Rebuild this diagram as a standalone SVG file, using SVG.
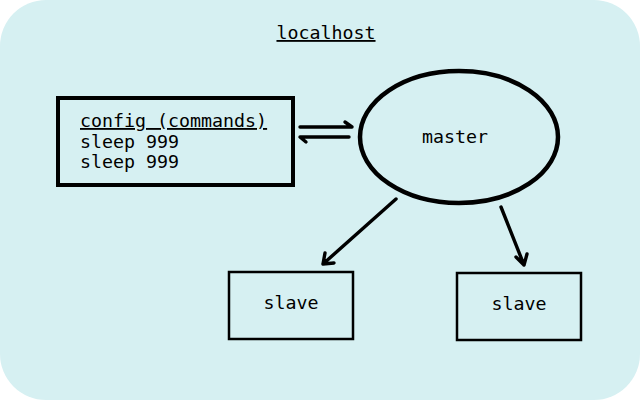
<svg xmlns="http://www.w3.org/2000/svg" width="640" height="400" viewBox="0 0 640 400">
<style>
text{font-family:"DejaVu Sans Mono","Liberation Mono",monospace;font-size:18.3px;fill:#000}
.c{text-anchor:middle}
.ln{fill:none;stroke:#000;stroke-width:3.4;stroke-linecap:round;stroke-linejoin:round}
</style>
<rect x="0" y="0" width="640" height="400" rx="46" ry="46" fill="#d6f0f2"/>
<g id="localhost"><text x="326" y="39" class="c" text-decoration="underline">localhost</text></g>
<g id="config">
<rect x="58" y="98" width="235" height="87" fill="none" stroke="#000" stroke-width="4"/>
<text x="80" y="127" text-decoration="underline">config (commands)</text>
<text x="80" y="148">sleep 999</text>
<text x="80" y="168">sleep 999</text>
</g>
<g id="master">
<ellipse cx="459" cy="137" rx="99" ry="66" fill="none" stroke="#000" stroke-width="4.5"/>
<text x="455" y="143" class="c">master</text>
</g>
<g id="slave1">
<rect x="229" y="272" width="124" height="67" fill="none" stroke="#000" stroke-width="2.5"/>
<text x="291" y="309" class="c">slave</text>
</g>
<g id="slave2">
<rect x="457" y="273" width="124" height="67" fill="none" stroke="#000" stroke-width="2.5"/>
<text x="519" y="310" class="c">slave</text>
</g>
<g id="connectors">
<path class="ln" d="M300 127 H352 L345 122"/>
<path class="ln" d="M349 137 H300 L306 142"/>
<path class="ln" d="M396 199 L323 264 M323 264 L334 263 M323 264 L325 253"/>
<path class="ln" d="M501 207 L524 265 M524 265 L516 257 M524 265 L527 254"/>
</g>
</svg>
